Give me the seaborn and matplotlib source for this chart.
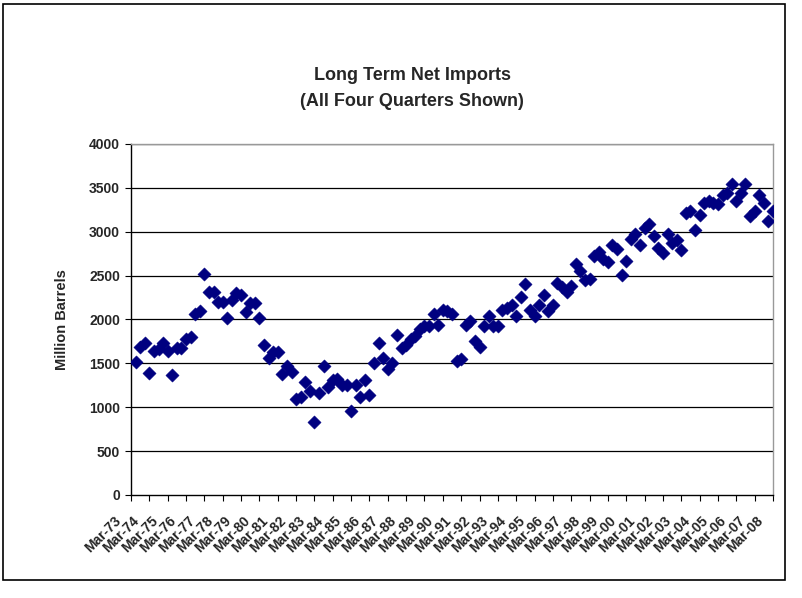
import matplotlib
matplotlib.use("Agg")
import matplotlib.pyplot as plt
import matplotlib.patches as patches
from matplotlib.transforms import ScaledTranslation
import numpy as np
import pandas as pd
import seaborn as sns

# quarterly net imports, million barrels (Jun-73 .. Mar-08)
imports = [
    1519, 1683, 1736, 1387, 1645, 1660, 1736, 1645, 1368, 1675,
    1675, 1778, 1797, 2059, 2100, 2515, 2314, 2314, 2203, 2200,
    2017, 2222, 2298, 2276, 2086, 2185, 2193, 2017, 1713, 1561,
    1630, 1630, 1379, 1470, 1402, 1090, 1121, 1288, 1187, 828,
    1159, 1470, 1235, 1307, 1322, 1257, 1257, 961, 1257, 1121,
    1307, 1136, 1501, 1729, 1565, 1432, 1501, 1827, 1679, 1713,
    1775, 1812, 1896, 1922, 1922, 2063, 1941, 2108, 2100, 2063,
    1531, 1554, 1941, 1979, 1759, 1691, 1926, 2040, 1926, 1926,
    2108, 2131, 2162, 2040, 2253, 2405, 2108, 2040, 2169, 2283,
    2100, 2169, 2420, 2374, 2314, 2382, 2633, 2553, 2450, 2466,
    2724, 2770, 2686, 2656, 2853, 2808, 2511, 2663, 2921, 2975,
    2846, 3043, 3089, 2952, 2815, 2755, 2978, 2868, 2906, 2792,
    3217, 3233, 3020, 3195, 3331, 3354, 3331, 3317, 3415, 3438,
    3545, 3347, 3446, 3545, 3180, 3233, 3415, 3331, 3119, 3233,
]

tick_labels = [
    "Mar-73", "Mar-74", "Mar-75", "Mar-76", "Mar-77", "Mar-78", "Mar-79",
    "Mar-80", "Mar-81", "Mar-82", "Mar-83", "Mar-84", "Mar-85", "Mar-86",
    "Mar-87", "Mar-88", "Mar-89", "Mar-90", "Mar-91", "Mar-92", "Mar-93",
    "Mar-94", "Mar-95", "Mar-96", "Mar-97", "Mar-98", "Mar-99", "Mar-00",
    "Mar-01", "Mar-02", "Mar-03", "Mar-04", "Mar-05", "Mar-06", "Mar-07",
    "Mar-08",
]

y_ticks = [0, 500, 1000, 1500, 2000, 2500, 3000, 3500, 4000]


def main():
    sns.set_theme(style="white")
    plt.rcParams["font.family"] = ["Liberation Sans", "DejaVu Sans"]

    df = pd.DataFrame({"quarter": np.arange(1, len(imports) + 1),
                       "imports": imports})

    fig = plt.figure(figsize=(8.03, 5.98), dpi=100)
    ax = fig.add_axes([131 / 803, 103 / 598, 642 / 803, 351 / 598])

    for v in y_ticks[1:]:
        ax.axhline(v, color="black", lw=0.9, zorder=1)

    sns.scatterplot(data=df, x="quarter", y="imports", ax=ax, marker="D",
                    s=46, color="#000080", edgecolor="#000080", linewidth=0.3,
                    zorder=3, legend=False)

    ax.set_xlim(0, 140)
    ax.set_ylim(0, 4000)
    ax.set_yticks(y_ticks)
    ax.set_yticklabels([str(v) for v in y_ticks], fontsize=10, fontweight="bold")

    xticks = np.arange(0, 141, 4)
    ax.set_xticks(xticks)
    ax.set_xticklabels([])
    # Excel-style slanted category labels, hung just below and left of each tick
    lab_tr = ax.get_xaxis_transform() + ScaledTranslation(-12 / 100, -24 / 100,
                                                           fig.dpi_scale_trans)
    for xt, lab in zip(xticks, tick_labels):
        ax.text(xt, 0, lab, transform=lab_tr, rotation=45, ha="right",
                va="center", rotation_mode="anchor", fontsize=10,
                fontweight="bold", clip_on=False)

    ax.tick_params(axis="x", direction="out", length=4, width=0.8,
                   color="black", bottom=True, pad=0)
    ax.tick_params(axis="y", direction="out", length=4, width=0.8,
                   color="black", left=True, pad=4)
    ax.set_xlabel("")
    ax.set_ylabel("Million Barrels", fontsize=10.5, fontweight="bold",
                  labelpad=14)

    for side in ["left", "bottom"]:
        ax.spines[side].set_color("black")
        ax.spines[side].set_linewidth(1.0)
    for side in ["top", "right"]:
        ax.spines[side].set_color("#999999")
        ax.spines[side].set_linewidth(1.0)

    fig.text(412 / 803, 1 - 75 / 598, "Long Term Net Imports", ha="center",
             va="center", fontsize=13, fontweight="bold")
    fig.text(412 / 803, 1 - 101 / 598, "(All Four Quarters Shown)", ha="center",
             va="center", fontsize=13, fontweight="bold")

    # chart area border
    fig.patches.append(patches.Rectangle((3 / 803, 1 - 580 / 598), 782 / 803,
                                         576 / 598, transform=fig.transFigure,
                                         fill=False, edgecolor="black", lw=1.2))

    fig.savefig("out.png", dpi=100)


if __name__ == "__main__":
    main()
